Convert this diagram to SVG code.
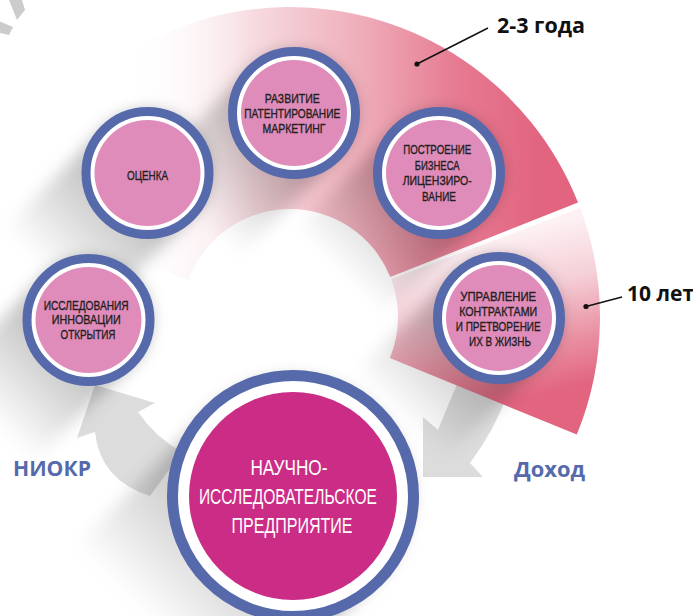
<svg xmlns="http://www.w3.org/2000/svg" width="693" height="616" viewBox="0 0 693 616">
  <style>
    .ring { fill: #ffffff; stroke: #5569ab; stroke-width: 9; }
    .ring-big { fill: #ffffff; stroke: #5569ab; stroke-width: 11; }
    .core { fill: #df8cba; }
    .core-big { fill: #cb2d86; }
    .t { font-family: "Liberation Sans", Arial, sans-serif; font-size: 13px; fill: #231f20; stroke: #231f20; stroke-width: 0.35; text-anchor: middle; }
    .tb { font-family: "Liberation Sans", Arial, sans-serif; font-size: 22px; fill: #ffffff; text-anchor: middle; }
    .lbl { font-family: "Open Sans", "Liberation Sans", sans-serif; font-size: 21px; font-weight: bold; fill: #111111; }
    .blue { fill: #5569ab; font-size: 22px; }
    .flow { fill: #dcdcdc; }
    .lead { stroke: #111111; stroke-width: 1.5; fill: none; }
    .shadow line { stroke: url(#shadowFade); stroke-linecap: round; }
  </style>
  <defs>
    <linearGradient id="bandTop" gradientUnits="userSpaceOnUse" x1="130" y1="0" x2="540" y2="0">
      <stop offset="0" stop-color="#ffffff" stop-opacity="0"/>
      <stop offset="0.3" stop-color="#f7dbe0"/>
      <stop offset="0.55" stop-color="#efb0bc"/>
      <stop offset="0.8" stop-color="#e67a91"/>
      <stop offset="1" stop-color="#e2647f"/>
    </linearGradient>
    <linearGradient id="bandLow" gradientUnits="userSpaceOnUse" x1="480" y1="240" x2="520" y2="400">
      <stop offset="0" stop-color="#fdf1f3"/>
      <stop offset="0.35" stop-color="#f5d0d8"/>
      <stop offset="0.7" stop-color="#ea93a5"/>
      <stop offset="1" stop-color="#e2647f"/>
    </linearGradient>
    <linearGradient id="shadowFade" x1="1" y1="0" x2="0" y2="1">
      <stop offset="0" stop-color="#000000" stop-opacity="0.32"/>
      <stop offset="1" stop-color="#000000" stop-opacity="0"/>
    </linearGradient>
    <filter id="soft" filterUnits="userSpaceOnUse" x="-200" y="-200" width="1100" height="1100">
      <feGaussianBlur stdDeviation="8"/>
    </filter>
  </defs>

  <rect width="693" height="616" fill="#ffffff"/>

  <!-- grey fragments in the top-left corner -->
  <g id="corner-fragments" fill="#cccccc">
    <polygon points="9,0 22,0 25,10 17,20"/>
    <polygon points="0,21.5 13,27 9,35 0,33"/>
  </g>

  <!-- curved flow arrows -->
  <g id="connectors">
    <path class="flow" d="M95,385 L155,403 L138,412 Q155,437 182,452 L150,496 Q100,480 95,432 L77,438 Z"/>
    <path class="flow" d="M423,417 L438,430 Q446,410 458,382 L508,392 Q496,428 470,463 L483,477 L423,477 Z"/>
  </g>

  <!-- time bands -->
  <g id="band-short">
    <path d="M-1.3,211 A310,310 0 0 1 578,202.4 L390.3,277.1 A108,108 0 0 0 188.5,280.1 Z" fill="url(#bandTop)"/>
  </g>
  <g id="band-long">
    <path d="M580.2,207.9 A310,310 0 0 1 576.8,434.6 L389.9,358 A108,108 0 0 0 391.1,279 Z" fill="url(#bandLow)"/>
  </g>

  <!-- long soft shadows cast to the lower left -->
  <g class="shadow" filter="url(#soft)">
    <line x1="88.5" y1="320" x2="-11.5" y2="420" stroke-width="124"/>
    <line x1="147.5" y1="173" x2="47.5" y2="273" stroke-width="124"/>
    <line x1="294" y1="113" x2="194" y2="213" stroke-width="124"/>
    <line x1="439" y1="173" x2="339" y2="273" stroke-width="124"/>
    <line x1="499" y1="318" x2="399" y2="418" stroke-width="124"/>
    <line x1="293" y1="496" x2="158" y2="631" stroke-width="236"/>
  </g>

  <g id="node-research">
    <circle class="ring" cx="88.5" cy="320" r="61.5"/>
    <circle class="core" cx="88.5" cy="320" r="53"/>
    <text class="t">
      <tspan x="88" y="309.5" textLength="85" lengthAdjust="spacingAndGlyphs">ИССЛЕДОВАНИЯ</tspan>
      <tspan x="88" y="324" textLength="69" lengthAdjust="spacingAndGlyphs">ИННОВАЦИИ</tspan>
      <tspan x="88" y="338.5" textLength="55" lengthAdjust="spacingAndGlyphs">ОТКРЫТИЯ</tspan>
    </text>
  </g>

  <g id="node-assessment">
    <circle class="ring" cx="147.5" cy="173" r="61.5"/>
    <circle class="core" cx="147.5" cy="173" r="53"/>
    <text class="t" x="147.5" y="179.5" textLength="41" lengthAdjust="spacingAndGlyphs">ОЦЕНКА</text>
  </g>

  <g id="node-development">
    <circle class="ring" cx="294" cy="113" r="61.5"/>
    <circle class="core" cx="294" cy="113" r="53"/>
    <text class="t">
      <tspan x="294" y="103" textLength="55" lengthAdjust="spacingAndGlyphs">РАЗВИТИЕ</tspan>
      <tspan x="294" y="118" textLength="96" lengthAdjust="spacingAndGlyphs">ПАТЕНТИРОВАНИЕ</tspan>
      <tspan x="294" y="133" textLength="63" lengthAdjust="spacingAndGlyphs">МАРКЕТИНГ</tspan>
    </text>
  </g>

  <g id="node-business">
    <circle class="ring" cx="439" cy="173" r="61.5"/>
    <circle class="core" cx="439" cy="173" r="53"/>
    <text class="t">
      <tspan x="439" y="154" textLength="68" lengthAdjust="spacingAndGlyphs">ПОСТРОЕНИЕ</tspan>
      <tspan x="439" y="169.5" textLength="45" lengthAdjust="spacingAndGlyphs">БИЗНЕСА</tspan>
      <tspan x="439" y="185" textLength="69" lengthAdjust="spacingAndGlyphs">ЛИЦЕНЗИРО-</tspan>
      <tspan x="439" y="200.5" textLength="34" lengthAdjust="spacingAndGlyphs">ВАНИЕ</tspan>
    </text>
  </g>

  <g id="node-contracts">
    <circle class="ring" cx="499" cy="318" r="61.5"/>
    <circle class="core" cx="499" cy="318" r="53"/>
    <text class="t">
      <tspan x="500" y="301" textLength="76" lengthAdjust="spacingAndGlyphs">УПРАВЛЕНИЕ</tspan>
      <tspan x="500" y="316" textLength="78" lengthAdjust="spacingAndGlyphs">КОНТРАКТАМИ</tspan>
      <tspan x="500" y="331" textLength="85" lengthAdjust="spacingAndGlyphs">И ПРЕТВОРЕНИЕ</tspan>
      <tspan x="500" y="346" textLength="62" lengthAdjust="spacingAndGlyphs">ИХ В ЖИЗНЬ</tspan>
    </text>
  </g>

  <g id="node-enterprise">
    <circle class="ring-big" cx="293" cy="496" r="120.5"/>
    <circle class="core-big" cx="293" cy="496" r="104"/>
    <text class="tb">
      <tspan x="292" y="475" textLength="77" lengthAdjust="spacingAndGlyphs">НАУЧНО-</tspan>
      <tspan x="291" y="504" textLength="178" lengthAdjust="spacingAndGlyphs">ИССЛЕДОВАТЕЛЬСКОЕ</tspan>
      <tspan x="292" y="533" textLength="121" lengthAdjust="spacingAndGlyphs">ПРЕДПРИЯТИЕ</tspan>
    </text>
  </g>

  <!-- period callouts and side captions -->
  <g id="labels">
    <line class="lead" x1="417" y1="64" x2="488" y2="28"/>
    <circle cx="417" cy="64" r="2.6" fill="#111111"/>
    <text class="lbl" x="497" y="33" textLength="88" lengthAdjust="spacingAndGlyphs">2-3 года</text>

    <line class="lead" x1="586" y1="306.5" x2="622" y2="297"/>
    <circle cx="586" cy="306.5" r="2.6" fill="#111111"/>
    <text class="lbl" x="627" y="301">10 лет</text>

    <text class="lbl blue" x="13" y="476" textLength="78" lengthAdjust="spacingAndGlyphs">НИОКР</text>
    <text class="lbl blue" x="514" y="477" textLength="71" lengthAdjust="spacingAndGlyphs">Доход</text>
  </g>
</svg>
